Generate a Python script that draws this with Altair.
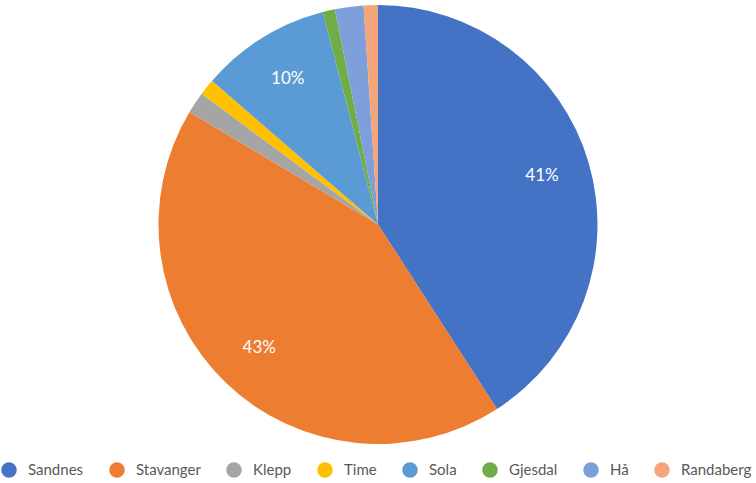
import altair as alt
import pandas as pd

kommuner = ["Sandnes", "Stavanger", "Klepp", "Time", "Sola", "Gjesdal", "Hå", "Randaberg"]
andel = [40.9, 42.7, 1.6, 1.2, 9.6, 0.9, 2.1, 1.05]
farger = ["#4472C4", "#ED7D31", "#A5A5A5", "#FFC000", "#5B9BD5", "#70AD47", "#7F9FDB", "#F4A57A"]

df = pd.DataFrame({"kommune": kommuner, "andel": andel, "rekkefolge": list(range(len(kommuner)))})

base = alt.Chart(df).encode(
    theta=alt.Theta("andel:Q", stack=True),
    order=alt.Order("rekkefolge:Q"),
)

arcs = base.mark_arc(outerRadius=219.5).encode(
    x=alt.value(378),
    y=alt.value(224.5),
    color=alt.Color(
        "kommune:N",
        sort=kommuner,
        scale=alt.Scale(domain=kommuner, range=farger),
        legend=alt.Legend(
            title=None,
            orient="none",
            legendX=1,
            legendY=462,
            direction="horizontal",
            symbolType="circle",
            symbolSize=240,
            symbolStrokeWidth=0,
            symbolOpacity=1,
            labelFont="Lato",
            labelFontSize=15,
            labelColor="#595959",
            labelOffset=11,
            columnPadding=25,
        ),
    ),
)

labels = base.transform_calculate(
    etikett="datum.andel >= 5 ? format(datum.andel, '.0f') + '%' : ''"
).mark_text(radius=171, fontSize=17, color="white", font="Lato").encode(
    x=alt.value(378),
    y=alt.value(224.5),
    text="etikett:N",
)

chart = (arcs + labels).properties(
    width=756, height=483, autosize=alt.AutoSizeParams(type="none"), padding=0
).configure_view(stroke=None)

chart.save("out.html", embed_options={"renderer": "svg", "actions": False})
